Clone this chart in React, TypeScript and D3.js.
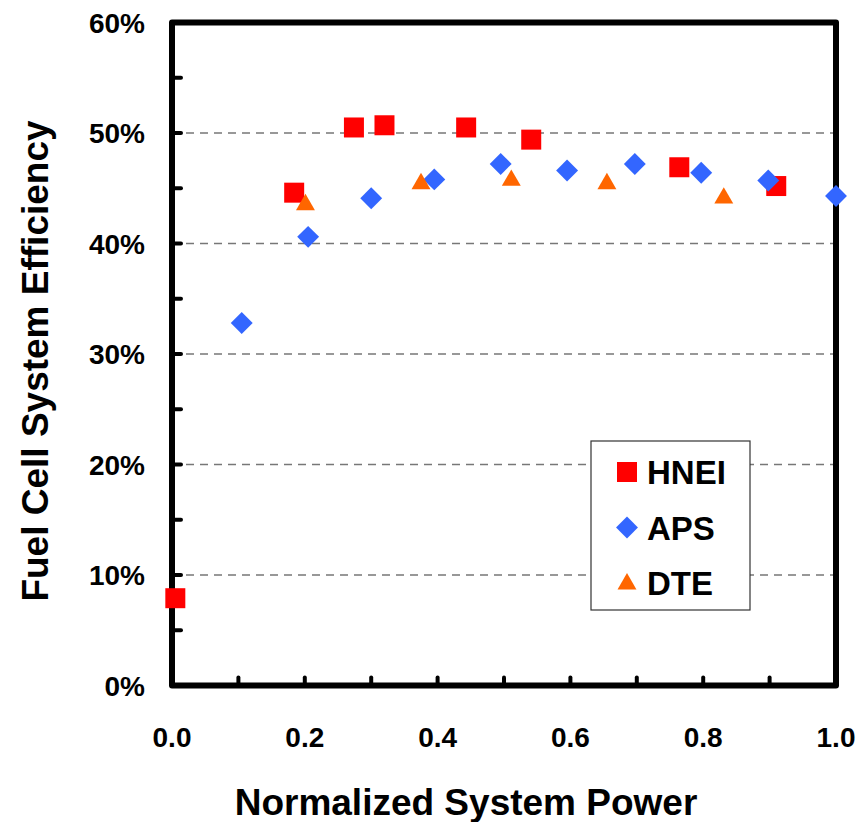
import React from "react";
import * as d3 from "d3";

const hneiX = [0.005, 0.184, 0.274, 0.32, 0.443, 0.541, 0.764, 0.91];
const hneiY = [7.9, 44.6, 50.5, 50.7, 50.5, 49.4, 46.9, 45.2];
const apsX = [0.105, 0.205, 0.3, 0.395, 0.495, 0.595, 0.697, 0.797, 0.898, 1.0];
const apsY = [32.8, 40.6, 44.1, 45.8, 47.2, 46.6, 47.2, 46.4, 45.7, 44.3];
const dteX = [0.201, 0.375, 0.511, 0.655, 0.831];
const dteY = [43.6, 45.5, 45.8, 45.5, 44.2];

const xTicks = [0, 0.2, 0.4, 0.6, 0.8, 1.0];
const xMinor = [0.1, 0.2, 0.3, 0.4, 0.5, 0.6, 0.7, 0.8, 0.9];
const yTicks = [0, 10, 20, 30, 40, 50, 60];
const yMinor = [5, 10, 15, 20, 25, 30, 35, 40, 45, 50, 55];
const gridY = [10, 20, 30, 40, 50];

const seriesNames = ["HNEI", "APS", "DTE"];
const colors = ["#FF0000", "#3366FF", "#FF6600"];

const FONT = "'Liberation Sans', Arial, Helvetica, sans-serif";

export default function App() {
  const W = 859, H = 822;
  const x = d3.scaleLinear().domain([0, 1]).range([172, 836]);
  const y = d3.scaleLinear().domain([0, 60]).range([685.5, 22.5]);

  const square = d3.symbol().type(d3.symbolSquare).size(400)() as string;
  const diamond = d3.symbol().type(d3.symbolSquare).size(240)() as string;
  const tri = d3.symbol().type(d3.symbolTriangle).size(155)() as string;

  const marker = (i: number, cx: number, cy: number, key: string) => {
    if (i === 0) return <path key={key} d={square} transform={`translate(${cx},${cy})`} fill={colors[0]} />;
    if (i === 1) return <path key={key} d={diamond} transform={`translate(${cx},${cy}) rotate(45)`} fill={colors[1]} />;
    return <path key={key} d={tri} transform={`translate(${cx},${cy + 1})`} fill={colors[2]} />;
  };

  const xs = [hneiX, apsX, dteX];
  const ys = [hneiY, apsY, dteY];

  return (
    <svg width={W} height={H} style={{ position: "absolute", left: 0, top: 0, background: "#fff" }}>
      <rect x={0} y={0} width={W} height={H} fill="#fff" />
      {gridY.map((g) => (
        <line key={"g" + g} x1={x(0)} x2={x(1)} y1={y(g)} y2={y(g)} stroke="#777" strokeWidth={1.5} strokeDasharray="8,6" />
      ))}
      {yMinor.map((t) => (
        <line key={"yt" + t} x1={x(0)} x2={x(0) + 9} y1={y(t)} y2={y(t)} stroke="#000" strokeWidth={4} strokeLinecap="round" />
      ))}
      {xMinor.map((t) => (
        <line key={"xt" + t} x1={x(t)} x2={x(t)} y1={y(0)} y2={y(0) - 8} stroke="#000" strokeWidth={4} strokeLinecap="round" />
      ))}
      <rect x={x(0)} y={y(60)} width={x(1) - x(0)} height={y(0) - y(60)} fill="none" stroke="#000" strokeWidth={6} strokeLinejoin="round" />
      <rect x={591} y={441} width={159} height={169} fill="#fff" stroke="#333" strokeWidth={1.2} />
      {seriesNames.map((n, i) => (
        <g key={n}>
          {marker(i, 627, 472 + i * 55.5, "lm" + i)}
          <text x={647} y={472 + i * 55.5 + 12} fontFamily={FONT} fontWeight="bold" fontSize={33} fill="#000">{n}</text>
        </g>
      ))}
      {xs.map((arr, i) => arr.map((v, j) => marker(i, x(v), y(ys[i][j]), `m${i}-${j}`)))}
      {yTicks.map((t) => (
        <text key={"yl" + t} x={145} y={y(t) + 10} textAnchor="end" fontFamily={FONT} fontWeight="bold" fontSize={28} fill="#000">{t + "%"}</text>
      ))}
      {xTicks.map((t) => (
        <text key={"xl" + t} x={x(t)} y={747} textAnchor="middle" fontFamily={FONT} fontWeight="bold" fontSize={28} fill="#000">{t.toFixed(1)}</text>
      ))}
      <text x={466} y={815} textAnchor="middle" fontFamily={FONT} fontWeight="bold" fontSize={37} fill="#000">Normalized System Power</text>
      <text transform="translate(48,361) rotate(-90)" textAnchor="middle" fontFamily={FONT} fontWeight="bold" fontSize={37} fill="#000">Fuel Cell System Efficiency</text>
    </svg>
  );
}
